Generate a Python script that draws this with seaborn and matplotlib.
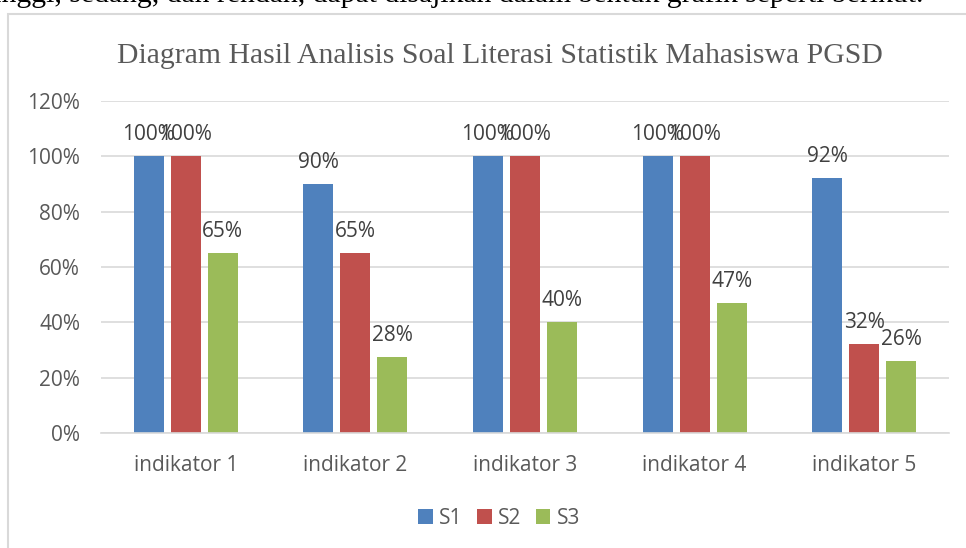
import matplotlib
matplotlib.use("Agg")
import matplotlib.pyplot as plt
import seaborn as sns
import pandas as pd
from matplotlib.patches import Rectangle

categories = ["indikator 1", "indikator 2", "indikator 3", "indikator 4", "indikator 5"]
series = ["S1", "S2", "S3"]
s1 = [100, 90, 100, 100, 92]
s2 = [100, 65, 100, 100, 32]
s3 = [65, 27.5, 40, 47, 26]
labels_s1 = ["100%", "90%", "100%", "100%", "92%"]
labels_s2 = ["100%", "65%", "100%", "100%", "32%"]
labels_s3 = ["65%", "28%", "40%", "47%", "26%"]
yticks = [0, 20, 40, 60, 80, 100, 120]
ytick_labels = ["0%", "20%", "40%", "60%", "80%", "100%", "120%"]
title = "Diagram Hasil Analisis Soal Literasi Statistik Mahasiswa PGSD"
caption = "tinggi, sedang, dan rendah, dapat disajikan dalam bentuk grafik seperti berikut."
colors = ["#4F81BD", "#C0504D", "#9BBB59"]

rows = []
for name, vals in zip(series, [s1, s2, s3]):
    for c, v in zip(categories, vals):
        rows.append({"cat": c, "series": name, "value": v})
df = pd.DataFrame(rows)

sns.set_theme(style="white")
plt.rcParams["font.family"] = ["Open Sans", "DejaVu Sans"]

W, H = 966, 548
fig = plt.figure(figsize=(W / 100, H / 100), dpi=100)
fig.patch.set_facecolor("white")

# outer chart frame
fig.patches.append(Rectangle((8 / W, -0.1), 1.2, 1 - 14 / H + 0.1, transform=fig.transFigure,
                             fill=False, edgecolor="#D9D9D9", linewidth=1.5, zorder=0))

# cropped caption line from the document
fig.text(-15 / W, 1 - 2 / H, caption, family="Liberation Serif", fontsize=21.3,
         color="black", va="baseline", ha="left")

ax = fig.add_axes([101 / W, 1 - 433 / H, (949 - 101) / W, (433 - 101) / H])
sns.barplot(data=df, x="cat", y="value", hue="series", palette=colors, ax=ax,
            width=0.655, gap=0.19, saturation=1, linewidth=0, legend=True)

ax.set_ylim(0, 120)
ax.set_xlim(-0.5, 4.5)
ax.set_yticks(yticks)
ax.set_yticklabels(ytick_labels)
ax.yaxis.grid(True, color="#D9D9D9", linewidth=1.2)
ax.set_axisbelow(True)
for s in ["top", "right", "left"]:
    ax.spines[s].set_visible(False)
ax.spines["bottom"].set_color("#D9D9D9")
ax.spines["bottom"].set_linewidth(1.2)
ax.tick_params(axis="both", length=0, labelsize=15, colors="#595959")
ax.tick_params(axis="y", pad=15)
ax.tick_params(axis="x", pad=16)
ax.set_xlabel("")
ax.set_ylabel("")

for cont, labs in zip(ax.containers, [labels_s1, labels_s2, labels_s3]):
    ax.bar_label(cont, labels=labs, padding=8, fontsize=15, color="#404040")

fig.text(500 / W, 1 - 56 / H, title, family="Liberation Serif", fontsize=21.4,
         color="#595959", ha="center", va="center")

leg = ax.legend(loc="center", bbox_to_anchor=((499 - 101) / 848, (433 - 518) / (433 - 101)), ncol=3,
                frameon=False, fontsize=15, handlelength=0.7, handleheight=0.7,
                handletextpad=0.3, columnspacing=0.7, labelcolor="#595959")

fig.savefig("out.png", dpi=100)
